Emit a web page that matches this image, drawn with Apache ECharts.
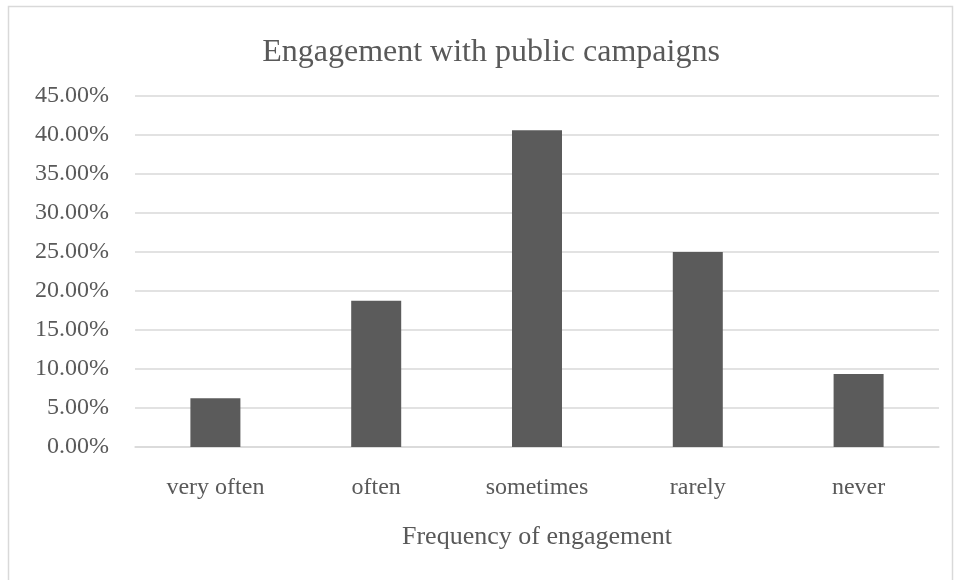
<!DOCTYPE html>
<html>
<head>
<meta charset="utf-8">
<script src="https://cdn.jsdelivr.net/npm/echarts@6/dist/echarts.min.js"></script>
<style>html,body{margin:0;padding:0;background:#fff}#c{width:959px;height:580px}</style>
</head>
<body>
<div id="c"></div>
<script>
const categories = ['very often', 'often', 'sometimes', 'rarely', 'never'];
const values = [6.25, 18.75, 40.625, 25.0, 9.375];
const yTicks = [0, 5, 10, 15, 20, 25, 30, 35, 40, 45];

const chart = echarts.init(document.getElementById('c'));
const font = '"Liberation Serif", "Times New Roman", serif';
chart.setOption({
  animation: false,
  textStyle: { fontFamily: font },
  graphic: [{
    type: 'rect', shape: { x: 8.5, y: 6.5, width: 944, height: 600 },
    style: { fill: 'none', stroke: '#d9d9d9', lineWidth: 1.5 }, z: -1
  }],
  title: {
    text: 'Engagement with public campaigns',
    left: 486, top: 32, textAlign: 'center',
    textStyle: { fontFamily: font, fontSize: 32, fontWeight: 'normal', color: '#595959' }
  },
  grid: { left: 135, right: 20, top: 96, bottom: 133, containLabel: false },
  xAxis: {
    type: 'category', data: categories,
    name: 'Frequency of engagement', nameLocation: 'middle', nameGap: 77,
    nameTextStyle: { fontFamily: font, fontSize: 26, color: '#595959' },
    axisLine: { show: true, lineStyle: { color: '#d9d9d9', width: 1.5 } },
    axisTick: { show: false },
    axisLabel: { fontFamily: font, fontSize: 24, color: '#595959', margin: 29 }
  },
  yAxis: {
    type: 'value', min: yTicks[0], max: yTicks[yTicks.length - 1], interval: 5,
    axisLine: { show: false }, axisTick: { show: false },
    splitLine: { lineStyle: { color: '#d9d9d9', width: 1.5 } },
    axisLabel: { fontFamily: font, fontSize: 24, color: '#595959', margin: 26,
      formatter: v => v.toFixed(2) + '%' }
  },
  series: [{
    type: 'bar', data: values, barWidth: 50,
    itemStyle: { color: '#5b5b5b' }
  }]
});
</script>
</body>
</html>
